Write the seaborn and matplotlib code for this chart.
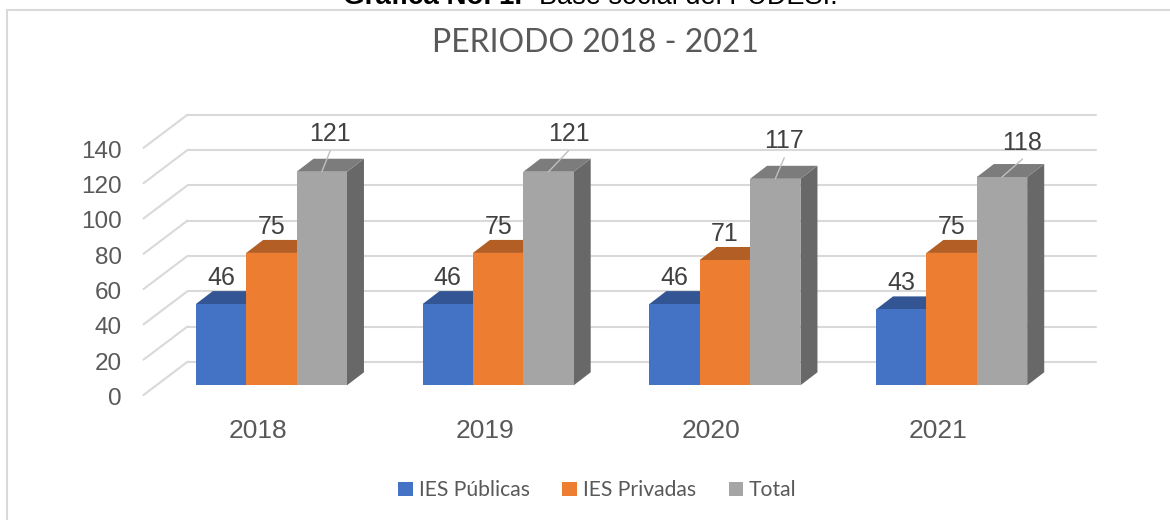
import pandas as pd
import seaborn as sns
import matplotlib.pyplot as plt
from matplotlib.lines import Line2D
from matplotlib.patches import Polygon
from matplotlib.transforms import ScaledTranslation

years = ['2018', '2019', '2020', '2021']
publicas = [46, 46, 46, 43]
privadas = [75, 75, 71, 75]
total = [121, 121, 117, 118]
series_names = ['IES Públicas', 'IES Privadas', 'Total']
y_ticks = [0, 20, 40, 60, 80, 100, 120, 140]

front_colors = ['#4472C4', '#ED7D31', '#A5A5A5']
top_colors = ['#335593', '#B25E24', '#7C7C7C']
side_colors = ['#2F5597', '#A9561D', '#686868']
grid_color = '#D9D9D9'
text_color = '#595959'
label_color = '#404040'

# pixel layout of the fake 3d box
W, H = 1170, 520
AX_LEFT, AX_RIGHT, AX_BASE = 158, 1065, 385.3
PX_PER_UNIT = 1.765
PX_PER_CAT = (AX_RIGHT - AX_LEFT) / len(years)

# total labels sit off to the side with a leader line
total_label_dx = [8.5, 20, 9, 20.5]
total_label_dy = [38, 38, 38, 34]
leader_dy = [21, 21, 21, 18]


def dx(px):
    return px / PX_PER_CAT


def dy(px):
    return px / PX_PER_UNIT


df = pd.DataFrame({'year': years * 3,
                   'value': publicas + privadas + total,
                   'serie': [n for n in series_names for _ in years]})

sns.set_theme(style='white')
plt.rcParams['font.family'] = ['Liberation Sans', 'DejaVu Sans']

fig = plt.figure(figsize=(W / 100, H / 100), dpi=100)
ax = fig.add_axes([AX_LEFT / W, (H - AX_BASE) / H, (AX_RIGHT - AX_LEFT) / W,
                   140 * PX_PER_UNIT / H])
ax.patch.set_alpha(0)

sns.barplot(data=df, x='year', y='value', hue='serie', order=years, hue_order=series_names,
            palette=front_colors, width=2 / 3, gap=0, saturation=1, ax=ax, zorder=5, linewidth=0)
handles, labels = ax.get_legend_handles_labels()
ax.get_legend().remove()

ax.set_xlim(-0.5, 3.5)
ax.set_ylim(0, 140)
ax.set_xlabel('')
ax.set_ylabel('')
sns.despine(ax=ax, left=True, bottom=True)
ax.set_yticks(y_ticks)

# walls and floor gridlines
for v in y_ticks:
    x_front = -0.5 - dx(14.5)
    x_back = -0.5 + dx(29.5)
    y_front = v - dy(9.7)
    y_back = v + dy(23.5)
    ax.plot([x_front, x_back], [y_front, y_back], color=grid_color, lw=1.5, clip_on=False, zorder=1)
    ax.plot([x_back, 3.5 + dx(30.5)], [y_back, y_back], color=grid_color, lw=1.5, clip_on=False, zorder=1)

# side and top faces of each bar
depth_x, depth_y = dx(17), dy(13)
for s, cont in enumerate(ax.containers):
    for i, bar in enumerate(cont):
        x0, x1 = bar.get_x(), bar.get_x() + bar.get_width()
        h = bar.get_height()
        ax.add_patch(Polygon([(x1, 0), (x1 + depth_x, depth_y), (x1 + depth_x, h + depth_y), (x1, h)],
                             facecolor=side_colors[s], edgecolor='none', clip_on=False, zorder=2 + s / 10))
        ax.add_patch(Polygon([(x0, h), (x0 + depth_x, h + depth_y), (x1 + depth_x, h + depth_y), (x1, h)],
                             facecolor=top_colors[s], edgecolor='none', clip_on=False, zorder=2 + s / 10))
        xc = (x0 + x1) / 2
        if s < 2:
            lx, ly = 0, 26
        else:
            lx, ly = total_label_dx[i], total_label_dy[i]
            ax.annotate('', xy=(xc, h), xytext=(lx, leader_dy[i]), textcoords='offset pixels',
                        arrowprops=dict(arrowstyle='-', color='#BFBFBF', lw=1, shrinkA=0, shrinkB=0),
                        annotation_clip=False, zorder=6)
        ax.annotate(str(int(h)), xy=(xc, h), xytext=(lx, ly), textcoords='offset pixels',
                    ha='center', va='center', fontsize=18, color=label_color,
                    annotation_clip=False, zorder=7)

# tick labels hang off the front edge of the floor
ax.tick_params(axis='y', length=0, pad=26, labelsize=17.5, labelcolor=text_color)
ax.tick_params(axis='x', length=0, pad=24, labelsize=19, labelcolor=text_color)
y_shift = ScaledTranslation(0, -11 / 100, fig.dpi_scale_trans)
x_shift = ScaledTranslation(-13.4 / 100, 0, fig.dpi_scale_trans)
for lab in ax.get_yticklabels():
    lab.set_transform(lab.get_transform() + y_shift)
for lab in ax.get_xticklabels():
    lab.set_transform(lab.get_transform() + x_shift)

leg = fig.legend(handles, labels, loc='center', bbox_to_anchor=(597.5 / W, 1 - 490.5 / H), ncols=3,
                 frameon=False, handlelength=0.67, handleheight=0.67, handletextpad=0.3,
                 columnspacing=1.54, prop={'family': 'Lato', 'size': 15.2}, labelcolor=text_color)

fig.text(595.5 / W, 1 - 43 / H, 'PERIODO 2018 - 2021', ha='center', va='center',
         family='Lato', fontsize=23, color=text_color)

# page caption above the chart, cut off by the crop
cap_y = 1 - 4.5 / H
fig.text(343 / W, cap_y, 'Gráfica No. 1.', ha='left', va='baseline', fontsize=20,
         fontweight='bold', color='black')
fig.text(539 / W, cap_y, 'Base social del PUDESI.', ha='left', va='baseline', fontsize=19.5, color='black')

# chart frame, only top and left are inside the crop
fig.add_artist(Line2D([7 / W, 1], [1 - 10 / H, 1 - 10 / H], color=grid_color, lw=1.5))
fig.add_artist(Line2D([7 / W, 7 / W], [0, 1 - 10 / H], color=grid_color, lw=1.5))

fig.savefig('out.png', dpi=100)
